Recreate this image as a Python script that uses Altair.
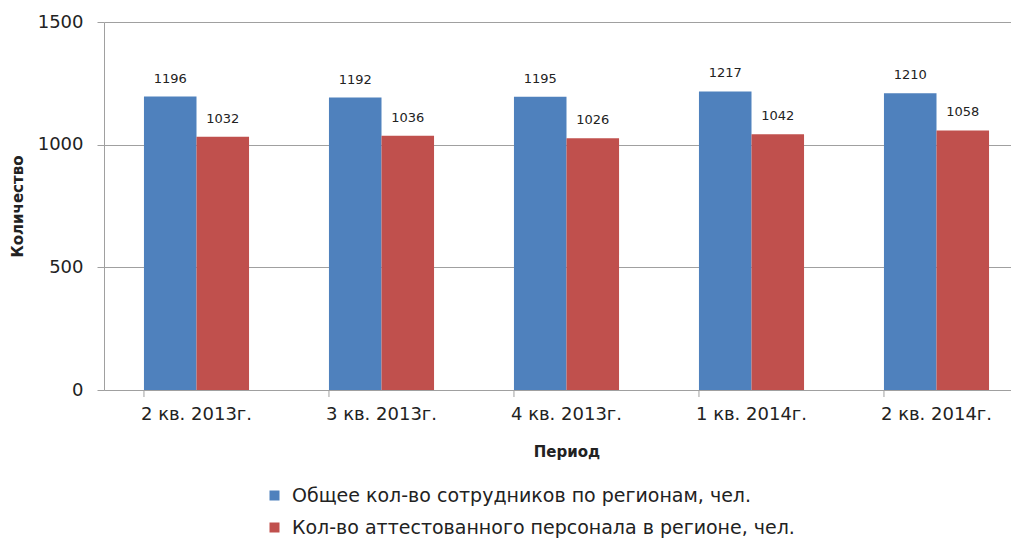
import altair as alt
import pandas as pd

periods = ["2 кв. 2013г.", "3 кв. 2013г.", "4 кв. 2013г.", "1 кв. 2014г.", "2 кв. 2014г."]
series = ["Общее кол-во сотрудников по регионам, чел.", "Кол-во аттестованного персонала в регионе, чел."]
total = [1196, 1192, 1195, 1217, 1210]
certified = [1032, 1036, 1026, 1042, 1058]
colors = ["#4F81BD", "#C0504D"]

rows = []
for p, a, b in zip(periods, total, certified):
    rows.append({"period": p, "series": series[0], "value": a})
    rows.append({"period": p, "series": series[1], "value": b})
df = pd.DataFrame(rows)

FONT = "DejaVu Sans"

x_scale = alt.Scale(domain=periods, range=[0, 925], paddingInner=0.432, paddingOuter=0.216)
y_scale = alt.Scale(domain=[0, 1500], nice=False)

base = alt.Chart(df)

bars = base.mark_bar().encode(
    x=alt.X("period:N", scale=x_scale, sort=periods,
            axis=alt.Axis(title="Период", ticks=False, labelAngle=0, labelFontSize=18,
                          labelPadding=15, titleFontSize=15, titleFontWeight="bold",
                          titlePadding=21, domainColor="#a0a0a0", labelColor="#222",
                          titleColor="#222", labelFont=FONT, titleFont=FONT)),
    xOffset=alt.XOffset("series:N", sort=series, scale=alt.Scale(paddingInner=0, paddingOuter=0)),
    y=alt.Y("value:Q", scale=y_scale,
            axis=alt.Axis(title="Количество", values=[0, 500, 1000, 1500], format="d",
                          tickSize=7, tickColor="#a0a0a0", domainColor="#a0a0a0",
                          gridColor="#a0a0a0", labelFontSize=18, labelPadding=14,
                          titleFontSize=15, titleFontWeight="bold", titlePadding=12,
                          labelColor="#222", titleColor="#222", labelFont=FONT,
                          titleFont=FONT)),
    color=alt.Color("series:N", sort=series, scale=alt.Scale(domain=series, range=colors),
                    legend=alt.Legend(title=None, orient="none", legendX=161, legendY=464,
                                      direction="vertical", symbolType="square",
                                      symbolSize=100, symbolStrokeWidth=0, labelFontSize=19,
                                      labelFont=FONT, labelColor="#222", rowPadding=12,
                                      labelOffset=8, labelLimit=0)),
)

text = base.mark_text(baseline="bottom", dy=-11, fontSize=13, font=FONT, color="#222").encode(
    x=alt.X("period:N", scale=x_scale, sort=periods),
    xOffset=alt.XOffset("series:N", sort=series),
    y=alt.Y("value:Q", scale=y_scale),
    text=alt.Text("value:Q"),
)

tick_df = pd.DataFrame({"period": periods})
ticks = alt.Chart(tick_df).mark_rule(color="#a0a0a0").encode(
    x=alt.X("period:N", scale=x_scale, sort=periods, bandPosition=0),
    y=alt.value(368),
    y2=alt.value(375),
)

chart = alt.layer(bars, text, ticks).properties(
    width=907, height=368,
    autosize=alt.AutoSizeParams(type="none"),
    padding={"left": 96, "top": 14, "right": 0, "bottom": 153},
).configure_view(stroke=None).configure_axis(grid=True)

chart = chart.configure_axisX(grid=False)

chart.save("out.html", embed_options={"renderer": "svg", "actions": False})
